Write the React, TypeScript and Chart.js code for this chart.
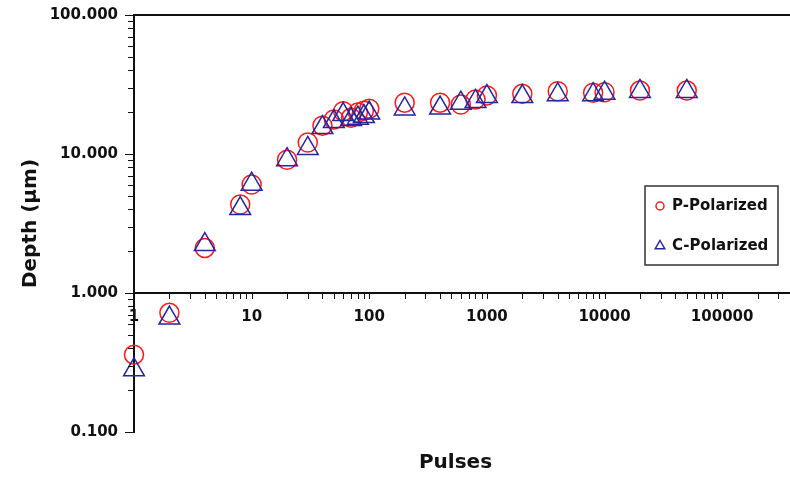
import React, { useEffect, useRef } from "react";
import { Chart, registerables } from "chart.js";

Chart.register(...registerables);

// ---- data ----
const pulses = [1, 2, 4, 8, 10, 20, 30, 40, 50, 60, 70, 80, 90, 100, 200, 400, 600, 800, 1000, 2000, 4000, 8000, 10000, 20000, 50000];
const pPolarized = [0.36, 0.72, 2.11, 4.33, 6.03, 9.1, 12.1, 16.0, 17.7, 20.3, 18.2, 19.9, 20.5, 21.2, 23.4, 23.4, 22.7, 24.7, 26.4, 27.1, 28.3, 27.6, 27.8, 28.6, 28.6];
const cPolarized = [0.28, 0.66, 2.23, 4.05, 6.07, 9.1, 10.96, 15.5, 17.1, 19.2, 17.7, 18.1, 18.6, 19.7, 21.1, 21.4, 23.2, 23.9, 25.9, 25.9, 26.7, 26.7, 27.4, 28.2, 28.2];

const seriesNames = ["P-Polarized", "C-Polarized"];

const xMajorTicks = [1, 10, 100, 1000, 10000, 100000];
const xTickLabels = ["1", "10", "100", "1000", "10000", "100000"];
const yMajorTicks = [0.1, 1, 10, 100];
const yTickLabels = ["0.100", "1.000", "10.000", "100.000"];

const xTitle = "Pulses";
const yTitle = "Depth (\u00b5m)";

const RED = "#ff1a1a";
const BLUE = "#25259f";
const FONT = "'DejaVu Sans', sans-serif";

function withMinors(majors: number[], max: number) {
  const out: number[] = [];
  majors.forEach((m) => {
    for (let k = 1; k <= 9; k++) {
      const v = k === 1 ? m : +(m * k).toPrecision(6);
      if (v <= max) out.push(v);
    }
  });
  return out;
}

const X_MAX = 370000;

const decorPlugin = {
  id: "decor",
  afterDraw(chart: any) {
    const { ctx, chartArea } = chart;
    const xs = chart.scales.x;
    const ys = chart.scales.y;
    const axisY = Math.round(ys.getPixelForValue(1));
    ctx.save();
    ctx.strokeStyle = "#111";
    ctx.lineWidth = 1;
    // x ticks
    xs.ticks.forEach((t: any) => {
      const px = Math.round(xs.getPixelForValue(t.value)) + 0.5;
      ctx.beginPath();
      ctx.moveTo(px, axisY);
      ctx.lineTo(px, axisY + 6);
      ctx.stroke();
    });
    // y ticks
    ys.ticks.forEach((t: any) => {
      const py = Math.round(ys.getPixelForValue(t.value)) + 0.5;
      const major = yMajorTicks.indexOf(t.value) >= 0;
      const len = major ? 9 : 6;
      ctx.beginPath();
      ctx.moveTo(chartArea.left - len, py);
      ctx.lineTo(chartArea.left, py);
      ctx.stroke();
    });
    // top line
    ctx.lineWidth = 2;
    ctx.beginPath();
    ctx.moveTo(chartArea.left, chartArea.top);
    ctx.lineTo(chartArea.right + 2, chartArea.top);
    ctx.stroke();

    // x title
    ctx.fillStyle = "#111";
    ctx.font = `bold 20px ${FONT}`;
    ctx.textAlign = "center";
    ctx.textBaseline = "middle";
    ctx.fillText(xTitle, (chartArea.left + chartArea.right) / 2 - 6, 463);

    // legend
    const bx = 645, by = 186, bw = 133, bh = 79;
    ctx.fillStyle = "#fff";
    ctx.fillRect(bx, by, bw, bh);
    ctx.strokeStyle = "#333";
    ctx.lineWidth = 1.5;
    ctx.strokeRect(bx, by, bw, bh);
    const rows = [206, 246];
    chart.data.datasets.forEach((ds: any, i: number) => {
      const y = rows[i];
      ctx.lineWidth = 1.5;
      ctx.strokeStyle = ds.borderColor;
      ctx.beginPath();
      if (ds.pointStyle === "circle") {
        ctx.arc(660, y, 4, 0, Math.PI * 2);
      } else {
        const r = 5.5;
        ctx.moveTo(660, y - r);
        ctx.lineTo(660 + r * 0.866, y + r / 2);
        ctx.lineTo(660 - r * 0.866, y + r / 2);
        ctx.closePath();
      }
      ctx.stroke();
      ctx.fillStyle = "#111";
      ctx.font = `bold 15px ${FONT}`;
      ctx.textAlign = "left";
      ctx.textBaseline = "middle";
      ctx.fillText(ds.label, 672, y);
    });
    ctx.restore();
  },
};

export default function App() {
  const ref = useRef<HTMLCanvasElement | null>(null);

  useEffect(() => {
    if (!ref.current) return;
    const chart = new Chart(ref.current, {
      type: "scatter",
      data: {
        datasets: [
          {
            label: seriesNames[0],
            data: pulses.map((x, i) => ({ x, y: pPolarized[i] })),
            pointStyle: "circle",
            pointRadius: 9.5,
            pointBorderWidth: 1.5,
            borderColor: RED,
            backgroundColor: "rgba(0,0,0,0)",
            order: 1,
            clip: 20,
          },
          {
            label: seriesNames[1],
            data: pulses.map((x, i) => ({ x, y: cPolarized[i] })),
            pointStyle: "triangle",
            pointRadius: 12,
            pointBorderWidth: 1.5,
            borderColor: BLUE,
            backgroundColor: "rgba(0,0,0,0)",
            order: 0,
            clip: 20,
          },
        ],
      },
      options: {
        responsive: false,
        animation: false,
        devicePixelRatio: 1,
        layout: { autoPadding: false, padding: { top: 15, right: 1, bottom: 48, left: 0 } },
        plugins: {
          legend: { display: false },
          tooltip: { enabled: false },
        },
        scales: {
          x: {
            type: "logarithmic",
            min: 1,
            max: X_MAX,
            position: { y: 1 } as any,
            grid: { display: true, drawOnChartArea: false, drawTicks: false },
            border: { display: true, color: "#111", width: 2 },
            afterBuildTicks: (scale: any) => {
              scale.ticks = withMinors(xMajorTicks, X_MAX).map((v) => ({ value: v }));
            },
            afterFit: (scale: any) => {
              scale.paddingLeft = 0;
              scale.paddingRight = 0;
              scale.paddingTop = 0;
              scale.paddingBottom = 0;
            },
            ticks: {
              autoSkip: false,
              maxRotation: 0,
              minRotation: 0,
              padding: 15,
              color: "#111",
              font: { family: FONT, size: 15, weight: "bold" },
              callback: (value: any) => {
                const i = xMajorTicks.indexOf(Number(value));
                return i >= 0 ? xTickLabels[i] : "";
              },
            },
          },
          y: {
            type: "logarithmic",
            min: 0.1,
            max: 100,
            position: "left",
            grid: { display: true, drawOnChartArea: false, drawTicks: false },
            border: { display: true, color: "#111", width: 2 },
            afterBuildTicks: (scale: any) => {
              scale.ticks = withMinors(yMajorTicks, 100).map((v) => ({ value: v }));
            },
            afterFit: (scale: any) => {
              scale.width = 134;
              scale.paddingTop = 0;
              scale.paddingBottom = 0;
              scale.paddingLeft = 0;
              scale.paddingRight = 0;
            },
            ticks: {
              autoSkip: false,
              padding: 16,
              color: "#111",
              font: { family: FONT, size: 15, weight: "bold" },
              callback: (value: any) => {
                const i = yMajorTicks.indexOf(Number(value));
                return i >= 0 ? yTickLabels[i] : "";
              },
            },
            title: {
              display: true,
              text: yTitle,
              color: "#111",
              font: { family: FONT, size: 20, weight: "bold" },
              padding: { top: 19, bottom: 0 },
            },
          },
        },
      },
      plugins: [decorPlugin],
    });
    return () => chart.destroy();
  }, []);

  return (
    <div style={{ position: "absolute", left: 0, top: 0, width: 790, height: 480, background: "#fff" }}>
      <canvas ref={ref} width={790} height={480} style={{ display: "block" }} />
    </div>
  );
}
